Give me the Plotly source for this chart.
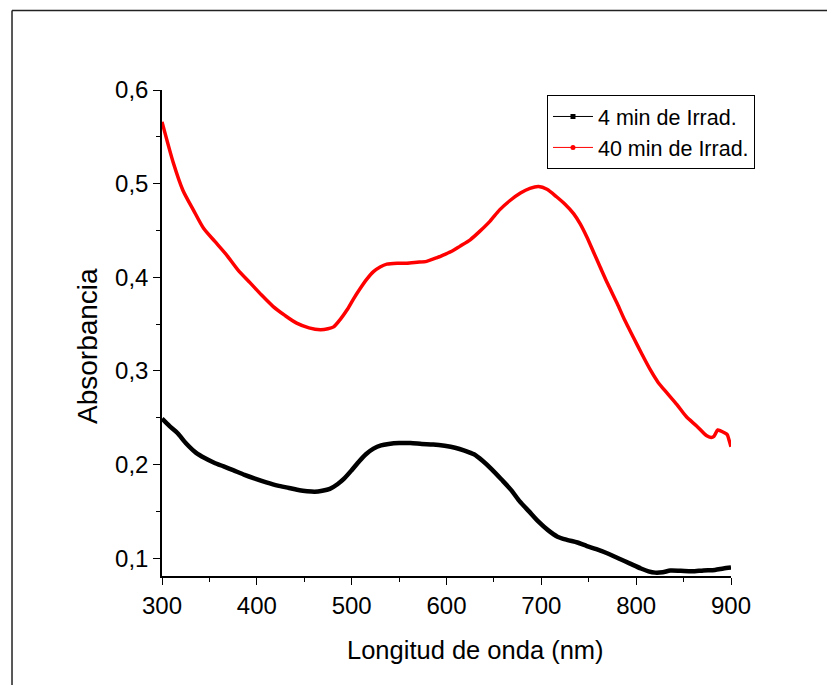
import plotly.graph_objects as go

# ---- data ----
wl_40 = [300, 312, 322, 333, 344, 356, 368, 380, 393, 405, 417, 430, 442, 455, 467, 475,
         481, 488, 495, 502, 509, 516, 523, 530, 537, 548, 558, 569, 579, 590, 597, 606,
         614, 625, 635, 646, 656, 667, 678, 688, 697, 706, 716, 725, 734, 741, 748, 755,
         762, 770, 780, 788, 797, 806, 815, 823, 832, 843, 853, 864, 874, 879, 882, 886,
         889, 893, 896, 898, 900]
abs_40 = [0.566, 0.522, 0.493, 0.472, 0.452, 0.438, 0.424, 0.408, 0.394, 0.381, 0.369,
          0.359, 0.351, 0.346, 0.344, 0.345, 0.347, 0.355, 0.365, 0.377, 0.388, 0.398,
          0.406, 0.411, 0.414, 0.415, 0.415, 0.416, 0.417, 0.421, 0.424, 0.428, 0.433,
          0.440, 0.449, 0.460, 0.472, 0.482, 0.490, 0.495, 0.497, 0.494, 0.486, 0.478,
          0.468, 0.457, 0.443, 0.427, 0.411, 0.393, 0.372, 0.354, 0.336, 0.318, 0.301,
          0.288, 0.277, 0.264, 0.251, 0.241, 0.231, 0.229, 0.230, 0.237, 0.236, 0.234,
          0.232, 0.226, 0.219]

wl_4 = [300, 308, 316, 326, 336, 345, 355, 365, 375, 387, 398, 410, 422, 434, 445, 453,
        461, 469, 477, 485, 492, 500, 508, 515, 523, 531, 539, 550, 562, 574, 586, 598,
        609, 619, 629, 638, 648, 658, 668, 677, 687, 697, 707, 717, 727, 738, 748, 758,
        770, 781, 793, 805, 813, 820, 828, 836, 847, 859, 871, 883, 892, 900]
abs_4 = [0.249, 0.241, 0.234, 0.222, 0.2125, 0.207, 0.202, 0.198, 0.194, 0.189, 0.185,
         0.181, 0.1775, 0.175, 0.1725, 0.1715, 0.171, 0.172, 0.174, 0.179, 0.185, 0.194,
         0.2036, 0.211, 0.217, 0.2205, 0.222, 0.223, 0.223, 0.222, 0.2214, 0.220, 0.218,
         0.215, 0.211, 0.204, 0.1946, 0.184, 0.173, 0.161, 0.150, 0.139, 0.130, 0.123,
         0.1196, 0.1168, 0.113, 0.1096, 0.105, 0.100, 0.0945, 0.089, 0.086, 0.0846,
         0.085, 0.0868, 0.0865, 0.086, 0.087, 0.0875, 0.089, 0.090]

names = ["4 min de Irrad.", "40 min de Irrad."]
colors = ["#000000", "#ff0000"]
x_title = "Longitud de onda (nm)"
y_title = "Absorbancia"

FONT = "Liberation Sans, Arial, sans-serif"

fig = go.Figure()
fig.add_trace(go.Scatter(x=wl_4, y=abs_4, mode="lines", showlegend=False,
                         line=dict(color=colors[0], width=4.5, shape="spline", smoothing=0.7)))
fig.add_trace(go.Scatter(x=wl_40, y=abs_40, mode="lines", showlegend=False,
                         line=dict(color=colors[1], width=3.5, shape="spline", smoothing=0.7)))
# legend entries (line with small marker)
fig.add_trace(go.Scatter(x=[None], y=[None], mode="lines+markers", name=names[0],
                         line=dict(color=colors[0], width=1),
                         marker=dict(symbol="square", size=5, color=colors[0])))
fig.add_trace(go.Scatter(x=[None], y=[None], mode="lines+markers", name=names[1],
                         line=dict(color=colors[1], width=1),
                         marker=dict(symbol="circle", size=5, color=colors[1])))

# outer frame lines
frame = dict(type="line", xref="paper", yref="paper", line=dict(color="#222", width=1.5))
fig.add_shape(**frame, x0=-0.2636, x1=-0.2636, y0=-0.3, y1=1.1636)
fig.add_shape(**frame, x0=-0.2636, x1=1.1801, y0=1.1636, y1=1.1636)
fig.add_shape(**frame, x0=1.1801, x1=1.1801, y0=-0.3, y1=1.1636)

# axis titles
fig.add_annotation(text=x_title, xref="paper", yref="paper", x=0.5501, y=-0.1523,
                   xanchor="center", yanchor="middle", showarrow=False,
                   font=dict(size=25.5, family=FONT, color="black"))
fig.add_annotation(text=y_title, xref="paper", yref="paper", x=-0.130, y=0.4733,
                   xanchor="center", yanchor="middle", showarrow=False, textangle=-90,
                   font=dict(size=28, family=FONT, color="black"))

fig.update_layout(
    width=827, height=677,
    margin=dict(l=154, r=104, t=82, b=109),
    paper_bgcolor="white", plot_bgcolor="white",
    separators=",.",
    font=dict(family=FONT, color="black", size=24),
    legend=dict(x=0.6766, y=0.9897, xanchor="left", yanchor="top",
                bgcolor="white", bordercolor="black", borderwidth=1,
                font=dict(size=21.5, family=FONT), tracegroupgap=0,
                itemwidth=40),
    xaxis=dict(range=[300, 900], dtick=100, tick0=300, ticks="outside", ticklen=7,
               tickwidth=1.2, tickcolor="black", showline=True, linecolor="black",
               linewidth=1.5, showgrid=False, zeroline=False,
               minor=dict(dtick=50, ticks="outside", ticklen=4, tickcolor="black",
                          tickwidth=1.2, showgrid=False),
               tickfont=dict(size=24)),
    yaxis=dict(range=[0.081, 0.6], dtick=0.1, tick0=0, tickformat=".1f",
               ticks="outside", ticklen=7, tickwidth=1.2, tickcolor="black",
               showline=True, linecolor="black", linewidth=1.5, showgrid=False,
               zeroline=False,
               minor=dict(dtick=0.05, ticks="outside", ticklen=4, tickcolor="black",
                          tickwidth=1.2, showgrid=False),
               tickfont=dict(size=24)),
)

fig.write_html("out.html")
